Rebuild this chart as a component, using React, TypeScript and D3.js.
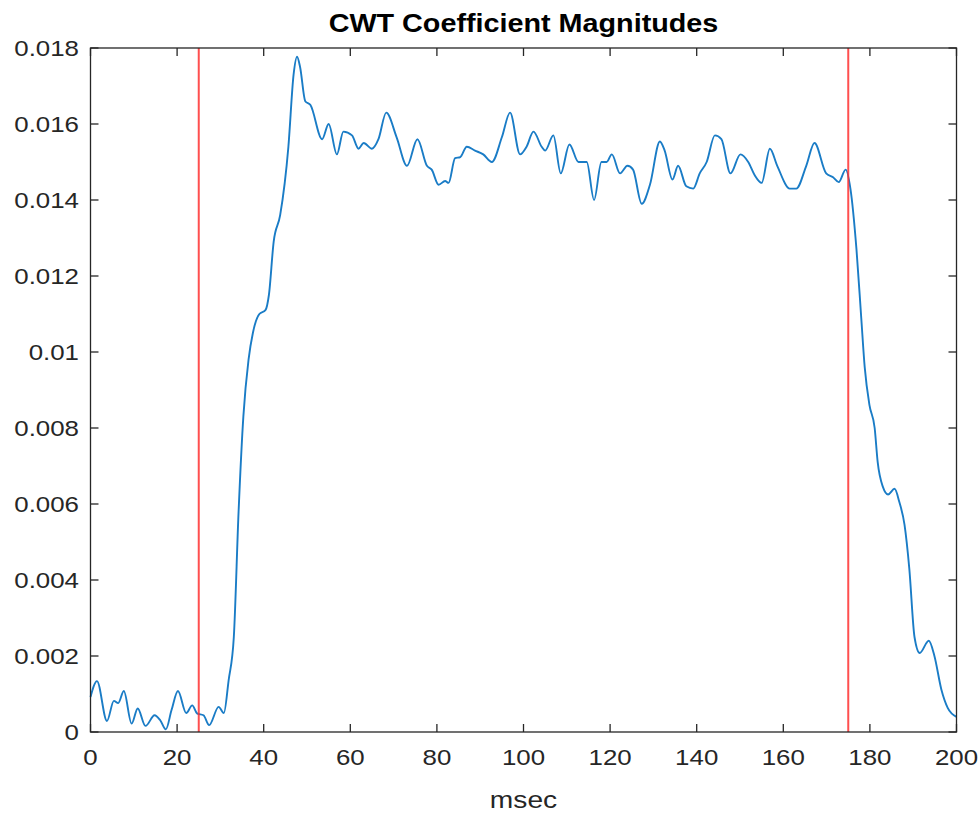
import React from "react";
import * as d3 from "d3";

const msec: number[] = [
  0, 1.5, 3.8, 5.4, 6.4, 7.7, 9.5, 10.9, 12.7, 14.8, 16.1, 17.4, 18.7, 20.2, 22.1, 23.5, 24.6, 26.1, 27.4, 29.6,
  30.8, 31.9, 33.1, 34.2, 35.3, 36.5, 37.5, 39, 40.4, 41.2, 42.3, 43.8, 45.7, 46.9, 47.7, 48.4, 49.6, 50.8, 53.5,
  55, 56.9, 58.4, 60.4, 61.9, 63.1, 65, 66.5, 68.3, 70.7, 73.1, 75.5, 77.7, 78.8, 80.4, 81.9, 82.7, 84.2, 85.4,
  86.9, 88.8, 90.7, 92.7, 95, 96.9, 99.2, 100.7, 102.3, 104.2, 105, 106.9, 108.6, 110.6, 112.7, 114.6, 116.3,
  118, 119.2, 120.4, 122.3, 124, 125.3, 127.3, 129.2, 131.5, 132.6, 134.4, 135.7, 137.6, 139.2, 140.7, 142.3,
  144.2, 145.7, 147.8, 150.1, 151.9, 153.4, 155, 156.9, 158.6, 161.5, 163, 165.3, 167.2, 169.9, 171.5, 172.8,
  174.4, 175.5, 176.9, 178, 178.8, 179.9, 181.1, 181.8, 183, 184.2, 185.7, 186.8, 188, 189.1, 190.3, 191.5,
  193.6, 194.9, 196.5, 198, 200,
];

const magnitude: number[] = [
  0.00092, 0.00134, 0.00029, 0.00082, 0.00076, 0.00108, 0.00022, 0.00062, 0.00016, 0.00044, 0.00031, 0.00007,
  0.00057, 0.00108, 0.0005, 0.0007, 0.00049, 0.00044, 0.00018, 0.00066, 0.0005, 0.00136, 0.0025, 0.0058, 0.0083,
  0.0098, 0.0105, 0.011, 0.0111, 0.0115, 0.0129, 0.0136, 0.0154, 0.0173, 0.01777, 0.0175, 0.0166, 0.0165, 0.0156,
  0.016, 0.0152, 0.0158, 0.0157, 0.01535, 0.0155, 0.01535, 0.0156, 0.0163, 0.01565, 0.0149, 0.0156, 0.0149,
  0.0148, 0.0144, 0.0145, 0.01445, 0.0151, 0.01513, 0.0154, 0.0153, 0.0152, 0.015, 0.01565, 0.0163, 0.0152,
  0.0154, 0.0158, 0.0154, 0.0153, 0.0157, 0.0147, 0.01546, 0.015, 0.015, 0.014, 0.015, 0.015, 0.0152, 0.0147,
  0.0149, 0.0148, 0.0139, 0.0144, 0.01554, 0.0153, 0.01454, 0.0149, 0.01436, 0.0143, 0.0147, 0.015, 0.0157,
  0.0156, 0.0147, 0.0152, 0.015, 0.01465, 0.01445, 0.01535, 0.0149, 0.0143, 0.0143, 0.0149, 0.0155, 0.0147,
  0.0146, 0.01447, 0.0148, 0.0143, 0.0127, 0.0109, 0.0096, 0.0086, 0.008, 0.0071, 0.00645, 0.00625, 0.0064,
  0.00605, 0.00545, 0.0043, 0.0025, 0.00208, 0.0024, 0.002, 0.00112, 0.00063, 0.0004,
];

const markerLines: number[] = [25, 175];
const xTicks: number[] = [0, 20, 40, 60, 80, 100, 120, 140, 160, 180, 200];
const yTicks: number[] = [0, 0.002, 0.004, 0.006, 0.008, 0.01, 0.012, 0.014, 0.016, 0.018];
const yTickLabels: string[] = ["0", "0.002", "0.004", "0.006", "0.008", "0.01", "0.012", "0.014", "0.016", "0.018"];

const W = 980;
const H = 815;
const L = 90.5;
const R = 956.5;
const T = 48;
const B = 732;
const FONT = "'Liberation Sans', Arial, Helvetica, sans-serif";
const TXT = "#262626";
const SX = 1.15;

export default function App() {
  const x = d3.scaleLinear().domain([0, 200]).range([L, R]);
  const y = d3.scaleLinear().domain([0, 0.018]).range([B, T]);
  const pts: [number, number][] = msec.map((t, i) => [t, magnitude[i]]);
  const line = d3
    .line<[number, number]>()
    .x((d) => x(d[0]))
    .y((d) => y(d[1]))
    .curve(d3.curveMonotoneX);
  const tickLen = 8;

  return (
    <svg
      width={W}
      height={H}
      style={{ position: "absolute", left: 0, top: 0, display: "block", background: "#fff" }}
    >
      <rect x={0} y={0} width={W} height={H} fill="#fff" />
      <path d={line(pts) || ""} fill="none" stroke="#1a7cc6" strokeWidth={1.9} strokeLinejoin="round" />
      {markerLines.map((m) => (
        <line key={m} x1={x(m)} x2={x(m)} y1={T} y2={B} stroke="#ff3030" strokeOpacity={0.85} strokeWidth={2} />
      ))}
      <rect x={L} y={T} width={R - L} height={B - T} fill="none" stroke={TXT} strokeWidth={1.3} />
      {xTicks.map((t) => (
        <g key={"x" + t}>
          <line x1={x(t)} x2={x(t)} y1={B} y2={B - tickLen} stroke={TXT} strokeWidth={1.3} />
          <line x1={x(t)} x2={x(t)} y1={T} y2={T + tickLen} stroke={TXT} strokeWidth={1.3} />
          <text
            transform={`translate(${x(t)},765) scale(${SX},1)`}
            textAnchor="middle"
            fontFamily={FONT}
            fontSize={22.5}
            fill={TXT}
          >
            {String(t)}
          </text>
        </g>
      ))}
      {yTicks.map((v, i) => (
        <g key={"y" + i}>
          <line x1={L} x2={L + tickLen} y1={y(v)} y2={y(v)} stroke={TXT} strokeWidth={1.3} />
          <line x1={R} x2={R - tickLen} y1={y(v)} y2={y(v)} stroke={TXT} strokeWidth={1.3} />
          <text
            transform={`translate(79,${y(v) + 8}) scale(${SX},1)`}
            textAnchor="end"
            fontFamily={FONT}
            fontSize={22.5}
            fill={TXT}
          >
            {yTickLabels[i]}
          </text>
        </g>
      ))}
      <text
        transform={`translate(${(L + R) / 2},808) scale(${SX},1)`}
        textAnchor="middle"
        fontFamily={FONT}
        fontSize={24.5}
        fill={TXT}
      >
        msec
      </text>
      <text
        transform={`translate(${(L + R) / 2},32) scale(${SX},1)`}
        textAnchor="middle"
        fontFamily={FONT}
        fontSize={25}
        fontWeight="bold"
        fill="#000"
      >
        CWT Coefficient Magnitudes
      </text>
    </svg>
  );
}
